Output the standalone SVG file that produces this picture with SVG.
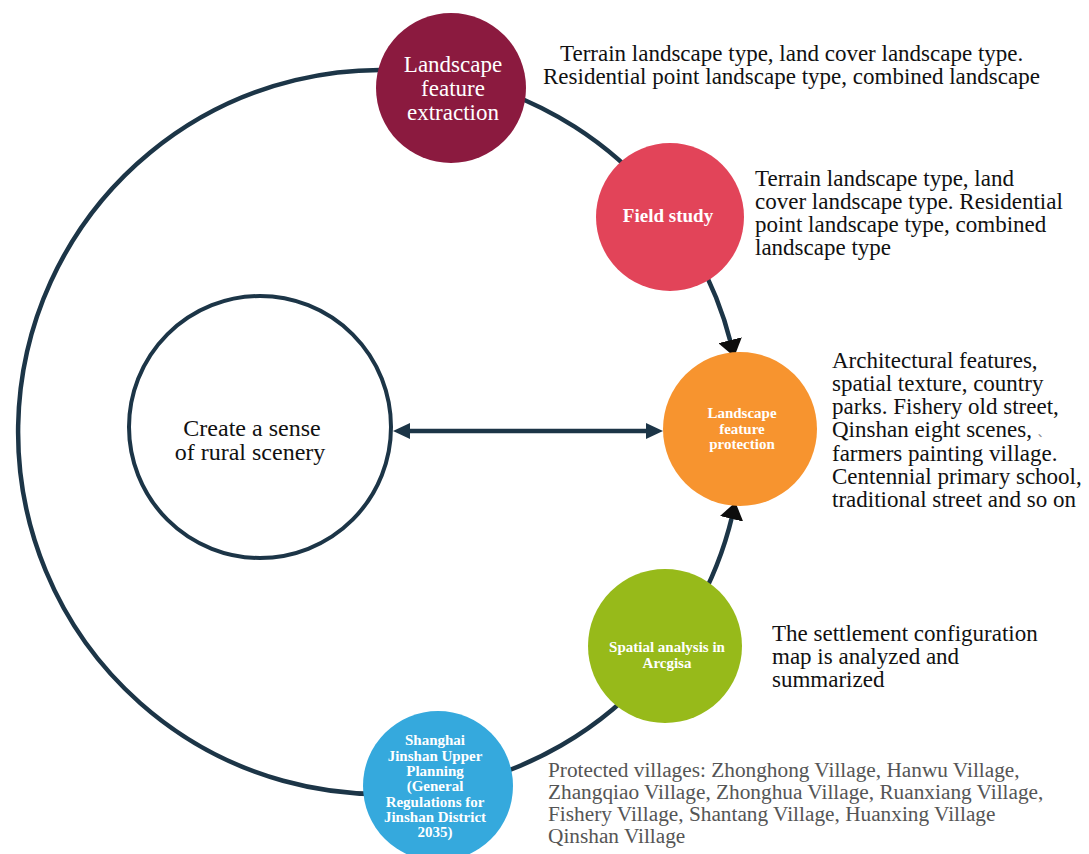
<svg xmlns="http://www.w3.org/2000/svg" width="1089" height="854" viewBox="0 0 1089 854">
  <defs>
    <style>
      .conn { fill: none; stroke: #1c3547; stroke-width: 4.5; }
      .body { font-family: "Liberation Serif", "Noto Sans CJK SC", serif; font-size: 23px; fill: #111; }
      .gray { font-family: "Liberation Serif", "Noto Sans CJK SC", serif; font-size: 21.3px; fill: #555; }
      .ttl { font-family: "Liberation Serif", serif; fill: #fff; text-anchor: middle; }
      .b { font-weight: bold; }
    </style>
    <marker id="blk" markerUnits="userSpaceOnUse" markerWidth="20" markerHeight="24" refX="3" refY="12" orient="auto" viewBox="0 0 20 24">
      <path d="M0,0 L17,12 L0,24 Z" fill="#0d0d0d"/>
    </marker>
    <marker id="nv" markerUnits="userSpaceOnUse" markerWidth="18" markerHeight="16" refX="3" refY="8" orient="auto-start-reverse" viewBox="0 0 18 16">
      <path d="M0,0 L17,8 L0,16 Z" fill="#1c3547"/>
    </marker>
  </defs>
  <rect width="1089" height="854" fill="#ffffff"/>

  <g id="connectors">
    <path class="conn" d="M442.9,75.5 A362,362 0 1 0 430.4,790.5"/>
    <path class="conn" d="M473.7,82.3 A362,362 0 0 1 657.3,199.3"/>
    <path class="conn" d="M693.5,251 A362,362 0 0 1 730.9,343.2" marker-end="url(#blk)"/>
    <path class="conn" d="M693.5,613 A362,362 0 0 0 732.2,515.9" marker-end="url(#blk)"/>
    <path class="conn" d="M442.9,788.5 A362,362 0 0 0 657.3,664.7"/>
    <line class="conn" x1="407" y1="431" x2="649" y2="431" stroke-width="4" marker-start="url(#nv)" marker-end="url(#nv)"/>
  </g>

  <g id="node-create">
    <circle cx="260" cy="427" r="131" fill="#ffffff" stroke="#1c3547" stroke-width="4"/>
    <text x="252" y="436" font-family="Liberation Serif, serif" font-size="24" fill="#111" text-anchor="middle">Create a sense</text>
    <text x="250" y="460" font-family="Liberation Serif, serif" font-size="24" fill="#111" text-anchor="middle">of rural scenery</text>
  </g>

  <g id="node-extraction">
    <circle cx="451" cy="88" r="75" fill="#8b1a3f"/>
    <text class="ttl" font-size="23"><tspan x="453" y="72">Landscape</tspan><tspan x="453" y="96">feature</tspan><tspan x="453" y="120">extraction</tspan></text>
  </g>

  <g id="node-field">
    <circle cx="670" cy="217" r="74" fill="#e24459"/>
    <text class="ttl b" font-size="19" x="668" y="222">Field study</text>
  </g>

  <g id="node-protection">
    <circle cx="740" cy="429" r="77" fill="#f7942f"/>
    <text class="ttl b" font-size="15"><tspan x="742" y="418">Landscape</tspan><tspan x="742" y="434">feature</tspan><tspan x="742" y="449">protection</tspan></text>
  </g>

  <g id="node-spatial">
    <circle cx="665" cy="646" r="77" fill="#97ba1a"/>
    <text class="ttl b" font-size="15"><tspan x="667" y="652">Spatial analysis in</tspan><tspan x="667" y="668">Arcgisa</tspan></text>
  </g>

  <g id="node-shanghai">
    <circle cx="438" cy="786" r="75" fill="#35a9dd"/>
    <text class="ttl b" font-size="15"><tspan x="435" y="745">Shanghai</tspan><tspan x="435" y="761">Jinshan Upper</tspan><tspan x="435" y="776">Planning</tspan><tspan x="435" y="791">(General</tspan><tspan x="435" y="807">Regulations for</tspan><tspan x="435" y="822">Jinshan District</tspan><tspan x="435" y="837">2035)</tspan></text>
  </g>

  <g id="label-extraction">
    <text class="body" x="560" y="61" font-size="23.6">Terrain landscape type, land cover landscape type.</text>
    <text class="body" x="543" y="84" font-size="23.4">Residential point landscape type, combined landscape</text>
  </g>
  <g id="label-field">
    <text class="body"><tspan x="755" y="186">Terrain landscape type, land</tspan><tspan x="755" y="209">cover landscape type. Residential</tspan><tspan x="755" y="232">point landscape type, combined</tspan><tspan x="755" y="255">landscape type</tspan></text>
  </g>
  <g id="label-protection">
    <text class="body"><tspan x="832" y="368">Architectural features,</tspan><tspan x="832" y="391">spatial texture, country</tspan><tspan x="832" y="414">parks. Fishery old street,</tspan><tspan x="832" y="437">Qinshan eight scenes, <tspan font-size="12" fill="#888">、</tspan></tspan><tspan x="832" y="461">farmers painting village.</tspan><tspan x="832" y="484">Centennial primary school,</tspan><tspan x="832" y="507">traditional street and so on</tspan></text>
  </g>
  <g id="label-spatial">
    <text class="body"><tspan x="772" y="641">The settlement configuration</tspan><tspan x="772" y="664">map is analyzed and</tspan><tspan x="772" y="687">summarized</tspan></text>
  </g>
  <g id="label-villages">
    <text class="gray"><tspan x="548" y="777">Protected villages: Zhonghong Village, Hanwu Village,</tspan><tspan x="548" y="799">Zhangqiao Village, Zhonghua Village, Ruanxiang Village,</tspan><tspan x="548" y="821">Fishery Village, Shantang Village, Huanxing Village</tspan><tspan x="548" y="843">Qinshan Village</tspan></text>
  </g>
</svg>
